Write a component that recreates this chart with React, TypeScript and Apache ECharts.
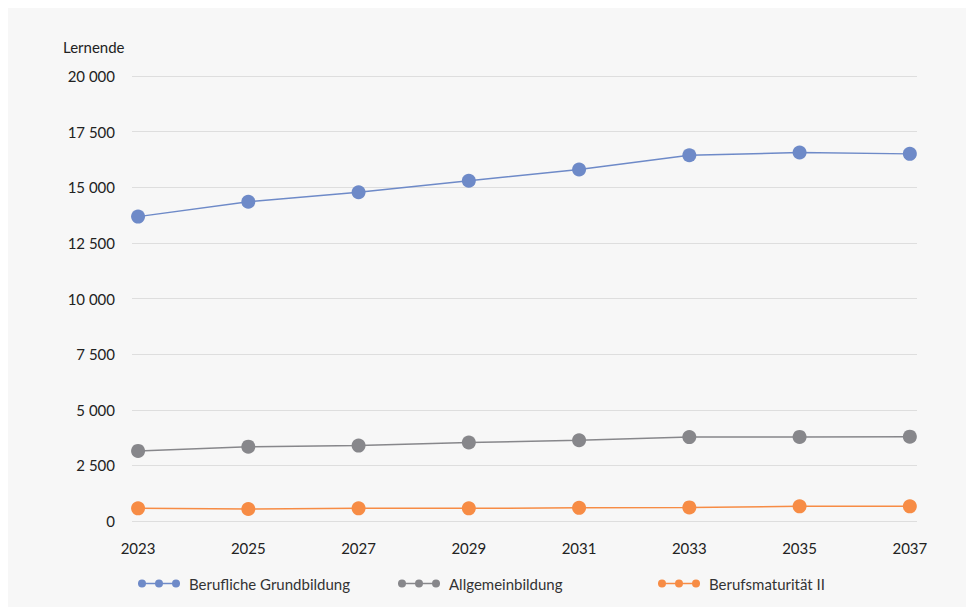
import React, { useEffect, useRef } from "react";
import * as echarts from "echarts";

const years = [2023, 2025, 2027, 2029, 2031, 2033, 2035, 2037];
const berufliche = [13680, 14350, 14775, 15290, 15800, 16440, 16560, 16500];
const allgemein = [3150, 3340, 3390, 3530, 3630, 3770, 3780, 3790];
const maturitaet = [570, 540, 570, 570, 590, 610, 660, 660];
const seriesNames = ["Berufliche Grundbildung", "Allgemeinbildung", "Berufsmaturität II"];
const colors = ["#6e8ac8", "#87878b", "#f78c45"];

const FONT = "Futura, 'Century Gothic', Lato, 'Noto Sans', sans-serif";

const legendIcon =
  "path://M0,4.3 L42,4.3 L42,5.7 L0,5.7 Z " +
  "M0,5 a4,4 0 1,1 8,0 a4,4 0 1,1 -8,0 Z " +
  "M17,5 a4,4 0 1,1 8,0 a4,4 0 1,1 -8,0 Z " +
  "M34,5 a4,4 0 1,1 8,0 a4,4 0 1,1 -8,0 Z";

const fmt = (v: number) => {
  const s = Math.round(v).toString();
  return s.replace(/\B(?=(\d{3})+(?!\d))/g, " ");
};

export default function App() {
  const ref = useRef<HTMLDivElement>(null);
  useEffect(() => {
    document.documentElement.style.overflow = "hidden";
    document.body.style.overflow = "hidden";
    const chart = echarts.init(ref.current!, undefined, { renderer: "svg" });
    const datasets = [berufliche, allgemein, maturitaet];
    const legendLefts = [130, 390, 650];
    chart.setOption({
      animation: false,
      backgroundColor: "#f7f7f7",
      textStyle: { fontFamily: FONT },
      graphic: [
        {
          type: "text",
          left: 55,
          top: 31,
          style: { text: "Lernende", fontSize: 15, fill: "#222", fontFamily: FONT },
        },
      ],
      grid: { left: 124, right: 65, top: 68, bottom: 94 },
      legend: seriesNames.map((n, i) => ({
        data: [{ name: n, icon: legendIcon }],
        left: legendLefts[i],
        top: 568,
        padding: 0,
        itemWidth: 42,
        itemHeight: 10,
        textStyle: { fontSize: 15, color: "#333", fontFamily: FONT, padding: [0, 0, 0, 4] },
      })),
      xAxis: {
        type: "value",
        min: 2022.89,
        max: 2037.13,
        axisLine: { show: false },
        axisTick: { show: false },
        splitLine: { show: false },
        axisLabel: {
          customValues: years,
          formatter: (v: number) => String(v),
          fontSize: 15,
          color: "#222",
          margin: 19,
          fontFamily: FONT,
        },
      },
      yAxis: {
        type: "value",
        min: 0,
        max: 20000,
        interval: 2500,
        axisLine: { show: false },
        axisTick: { show: false },
        splitLine: { lineStyle: { color: "#dedede", width: 1 } },
        axisLabel: {
          formatter: fmt,
          fontSize: 15,
          color: "#222",
          margin: 17,
          fontFamily: FONT,
        },
      },
      series: datasets.map((d, i) => ({
        name: seriesNames[i],
        type: "line",
        data: d.map((v, j) => [years[j], v]),
        symbol: "circle",
        symbolSize: 14,
        itemStyle: { color: colors[i] },
        lineStyle: { color: colors[i], width: 1.5 },
      })),
    });
    return () => chart.dispose();
  }, []);
  return <div ref={ref} style={{ width: 974, height: 607 }} />;
}
